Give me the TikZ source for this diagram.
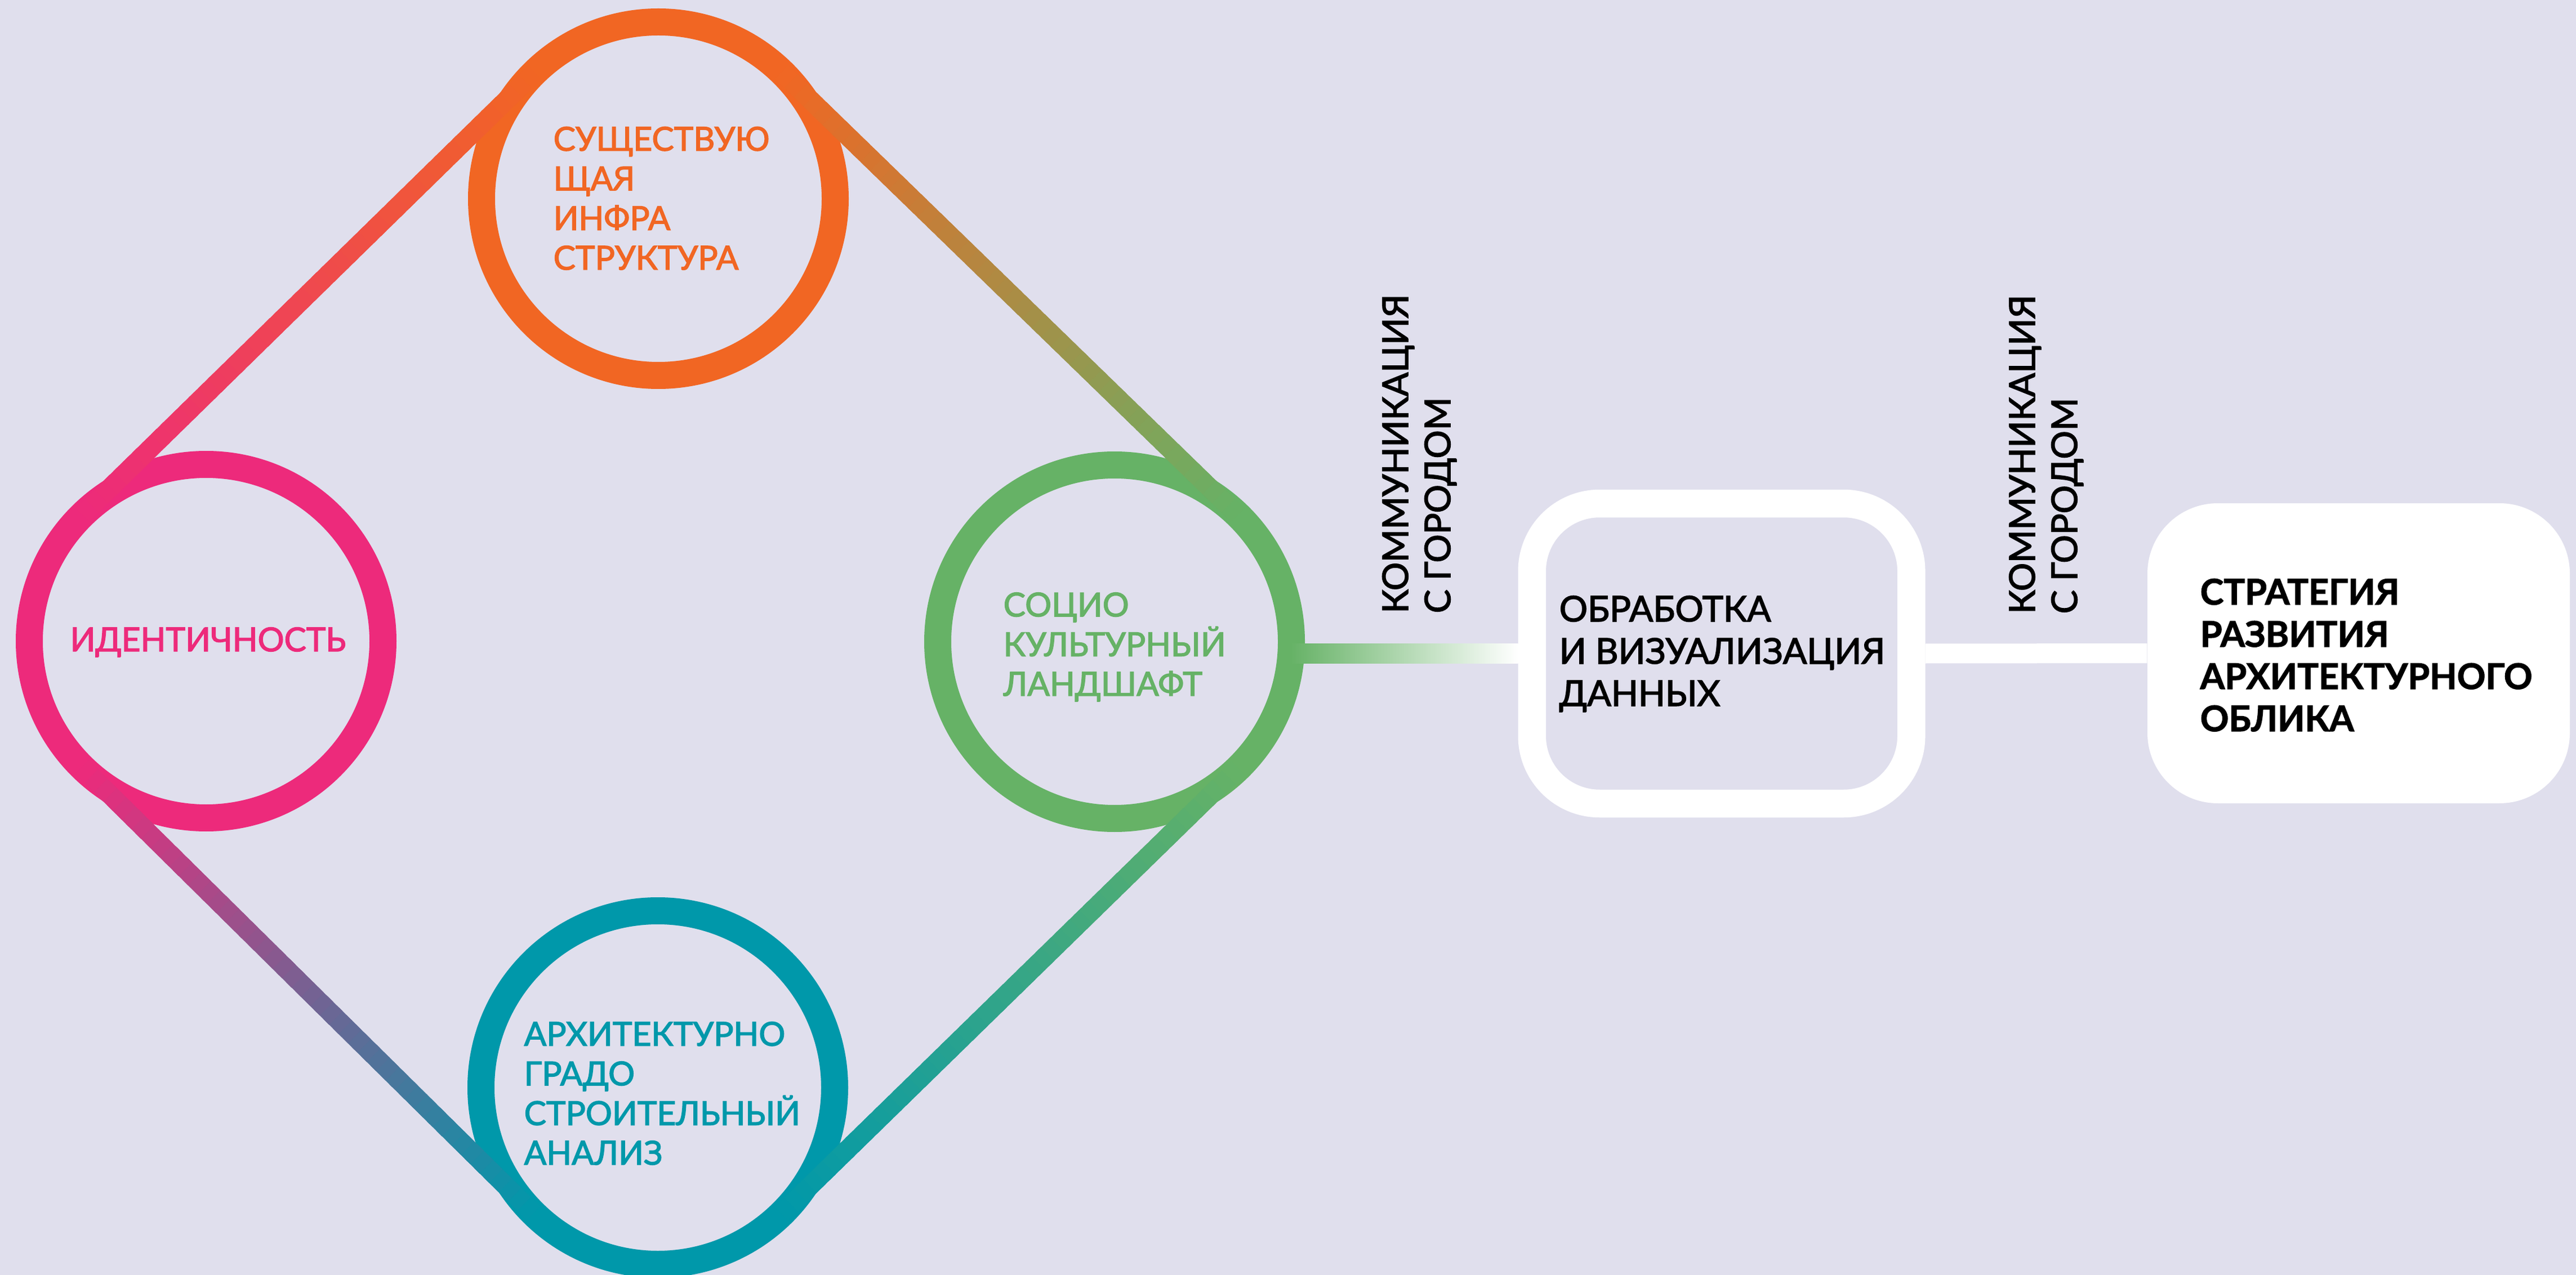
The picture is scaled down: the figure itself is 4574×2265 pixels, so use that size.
\documentclass[tikz,border=0pt]{standalone}
\usepackage{fontspec}
\setmainfont{Lato}
\newfontfamily\medfont{Lato}[FakeBold=2.4]
\newfontfamily\heavyfont{Lato}[FakeBold=1.8]
\usetikzlibrary{calc}
\definecolor{bgc}{RGB}{224,223,237}
\definecolor{orangeC}{RGB}{241,102,35}
\definecolor{pinkC}{RGB}{237,42,123}
\definecolor{greenC}{RGB}{102,178,102}
\definecolor{tealC}{RGB}{0,152,170}
\newcommand\gradline[4]{%
  \coordinate (#1-#2-s) at ($(#1)!31.4mm!90:(#2)$);
  \coordinate (#1-#2-e) at ($(#2)!31.4mm!-90:(#1)$);
  \foreach \k in {0,...,47}{%
    \pgfmathsetmacro\ta{\k/48}%
    \pgfmathsetmacro\tb{min((\k+1.6)/48,1)}%
    \pgfmathsetmacro\pc{100*(\k+0.5)/48}%
    \draw[gline, draw=#4!\pc!#3] ($(#1-#2-s)!\ta!(#1-#2-e)$) -- ($(#1-#2-s)!\tb!(#1-#2-e)$);
  }}
\begin{document}
\begin{tikzpicture}[x=0.1mm,y=-0.1mm,
  ring/.style={circle, line width=4.8mm, minimum size=62.8mm, inner sep=0pt},
  gline/.style={line width=3.4mm, line cap=butt},
  clbl/.style={align=left, inner sep=0pt, anchor=base west, font=\medfont\fontsize{16.7}{20.04}\selectfont},
  blbl/.style={align=left, inner sep=0pt, anchor=base west, text=black, font=\medfont\fontsize{17.9}{21.34}\selectfont},
  slbl/.style={align=left, inner sep=0pt, anchor=base west, text=black, font=\heavyfont\bfseries\fontsize{17.9}{21.34}\selectfont},
  frame/.style={draw=white, line width=4.95mm, rounded corners=12mm, minimum width=67.35mm, minimum height=53.3mm, inner sep=0pt},
  goal/.style={fill=white, rounded corners=12.5mm, minimum width=75mm, minimum height=53.3mm, inner sep=0pt},
  link/.style={draw=white, line width=3.5mm}]
\fill[bgc] (0,0) rectangle (4574,2265);
\useasboundingbox (0,0) rectangle (4574,2265);
% rings
\node[ring, draw=orangeC] (infra) at (1169,353) {};
\node[ring, draw=pinkC] (ident) at (366,1139) {};
\node[ring, draw=greenC] (socio) at (1979,1140) {};
\node[ring, draw=tealC] (arch) at (1168,1932) {};
% gradient tangent lines
\gradline{ident}{infra}{pinkC}{orangeC}
\gradline{infra}{socio}{orangeC}{greenC}
\gradline{socio}{arch}{greenC}{tealC}
\gradline{arch}{ident}{tealC}{pinkC}
% ring labels (anchor = baseline of last line)
\node[clbl, text=orangeC] (infraT) at (982,479) {СУЩЕСТВУЮ\\ЩАЯ\\ИНФРА\\СТРУКТУРА};
\node[clbl, text=pinkC] (identT) at (124,1157) {ИДЕНТИЧНОСТЬ};
\node[clbl, text=greenC] (socioT) at (1781,1236) {СОЦИО\\КУЛЬТУРНЫЙ\\ЛАНДШАФТ};
\node[clbl, text=tealC] (archT) at (930,2069) {АРХИТЕКТУРНО\\ГРАДО\\СТРОИТЕЛЬНЫЙ\\АНАЛИЗ};
% boxes
\node[frame] (proc) at (3057,1161) {};
\node[goal] (strat) at (4188,1160.5) {};
% connectors
\shade[left color=greenC, right color=white] ($(proc.west -| socio.east)+(-25,-17.5)$) rectangle ($(proc.west)+(0,17.5)$);
\draw[link] (proc.east) -- (strat.west);
% box labels
\node[blbl] (procT) at (2768,1254) {ОБРАБОТКА\\И ВИЗУАЛИЗАЦИЯ\\ДАННЫХ};
\node[slbl] (stratT) at (3906,1299) {СТРАТЕГИЯ\\РАЗВИТИЯ\\АРХИТЕКТУРНОГО\\ОБЛИКА};
% rotated labels
\node[blbl, rotate=90] (comm1) at (2575,1090) {КОММУНИКАЦИЯ\\С ГОРОДОМ};
\node[blbl, rotate=90] (comm2) at (3688,1091) {КОММУНИКАЦИЯ\\С ГОРОДОМ};
\end{tikzpicture}
\end{document}
